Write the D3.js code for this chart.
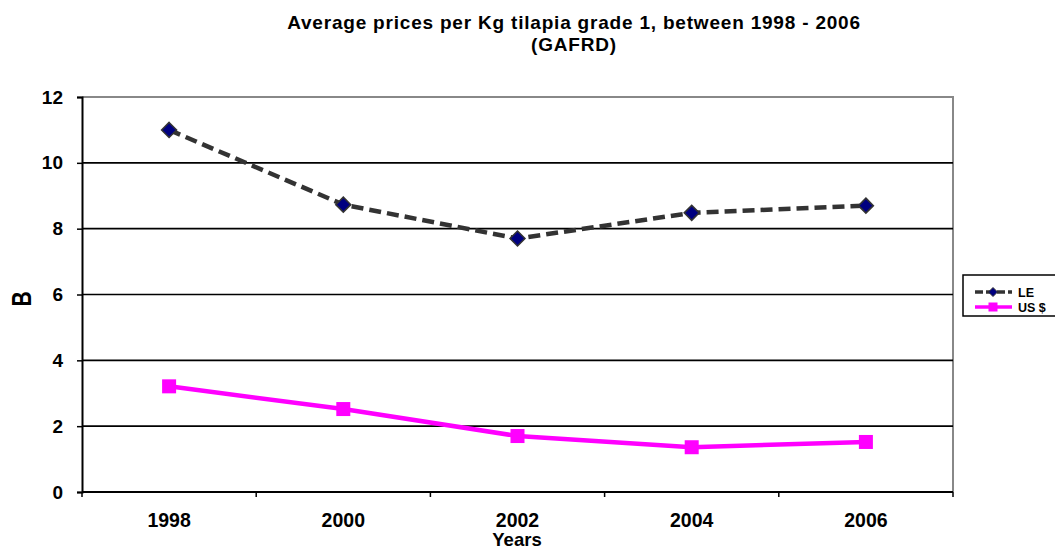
<!DOCTYPE html>
<html>
<head>
<meta charset="utf-8">
<script src="https://cdn.jsdelivr.net/npm/d3@7"></script>
<style>
  html, body { margin: 0; padding: 0; background: #fff; }
  svg { display: block; font-family: "Liberation Sans", Arial, sans-serif; }
</style>
</head>
<body>
<svg id="chart" width="1055" height="551"></svg>
<script>
// Tilapia grade 1 average price per Kg
const years = ["1998", "2000", "2002", "2004", "2006"];
const leValues = [11.0, 8.73, 7.7, 8.48, 8.7];
const usdValues = [3.21, 2.52, 1.70, 1.36, 1.52];
const yTicks = [0, 2, 4, 6, 8, 10, 12];
const seriesNames = ["LE", "US $"];

const svg = d3.select("#chart");
const plot = { left: 82, right: 953, top: 97, bottom: 492 };

const x = d3.scaleBand().domain(years).range([plot.left, plot.right]).padding(0);
const y = d3.scaleLinear().domain([0, 12]).range([plot.bottom, plot.top]);

// Title
svg.append("text")
  .attr("x", 574).attr("y", 29)
  .attr("text-anchor", "middle")
  .style("font-weight", "bold").style("font-size", "19px").style("letter-spacing", "0.8px")
  .text("Average prices per Kg tilapia grade  1, between 1998 - 2006");
svg.append("text")
  .attr("x", 574).attr("y", 51)
  .attr("text-anchor", "middle")
  .style("font-weight", "bold").style("font-size", "19px").style("letter-spacing", "0.8px")
  .text("(GAFRD)");

// Plot frame (top and right edges)
svg.append("path")
  .attr("d", `M${plot.left},${plot.top}H${plot.right}V${plot.bottom}`)
  .attr("fill", "none").attr("stroke", "#888").attr("stroke-width", 2);

// Horizontal gridlines
svg.append("g")
  .selectAll("line")
  .data(yTicks.filter(d => d > 0 && d < 12))
  .join("line")
  .attr("x1", plot.left).attr("x2", plot.right)
  .attr("y1", d => y(d)).attr("y2", d => y(d))
  .attr("stroke", "#000").attr("stroke-width", 1.6);

// Y axis
const yAxis = svg.append("g")
  .attr("transform", `translate(${plot.left},0)`)
  .call(d3.axisLeft(y).tickValues(yTicks).tickSize(5).tickPadding(14).tickFormat(d3.format("d")));
yAxis.select(".domain").attr("stroke", "#000").attr("stroke-width", 2);
yAxis.selectAll(".tick line").attr("stroke", "#000").attr("stroke-width", 1.5);
yAxis.selectAll(".tick text")
  .style("font-size", "19px").style("font-weight", "bold").attr("fill", "#000");

// X axis: ticks on band boundaries, labels at band centres
const xAxisG = svg.append("g").attr("transform", `translate(0,${plot.bottom})`);
xAxisG.append("line")
  .attr("x1", plot.left).attr("x2", plot.right)
  .attr("stroke", "#000").attr("stroke-width", 2);
const boundaries = years.map(d => x(d)).concat([x(years[years.length - 1]) + x.bandwidth()]);
xAxisG.selectAll("line.tk")
  .data(boundaries)
  .join("line").attr("class", "tk")
  .attr("x1", d => d).attr("x2", d => d)
  .attr("y1", 0).attr("y2", 5)
  .attr("stroke", "#000").attr("stroke-width", 1.5);
xAxisG.selectAll("text")
  .data(years)
  .join("text")
  .attr("x", d => x(d) + x.bandwidth() / 2)
  .attr("y", 35)
  .attr("text-anchor", "middle")
  .style("font-size", "19.5px").style("font-weight", "bold")
  .text(d => d);

// Axis titles
svg.append("text")
  .attr("x", 517).attr("y", 546)
  .attr("text-anchor", "middle")
  .style("font-size", "18.5px").style("font-weight", "bold")
  .text("Years");
svg.append("text")
  .attr("transform", "translate(31,299) rotate(-90) scale(0.75,1)")
  .attr("text-anchor", "middle")
  .style("font-size", "28px").style("font-weight", "bold")
  .text("B");

const cx = d => x(d) + x.bandwidth() / 2;
const line = d3.line().x(d => cx(d.year)).y(d => y(d.value));

const leData = years.map((yr, i) => ({ year: yr, value: leValues[i] }));
const usdData = years.map((yr, i) => ({ year: yr, value: usdValues[i] }));

// US $ series
svg.append("path")
  .datum(usdData)
  .attr("d", line)
  .attr("fill", "none")
  .attr("stroke", "#ff00ff").attr("stroke-width", 4.5)
  .attr("stroke-linejoin", "round");
svg.append("g")
  .selectAll("rect")
  .data(usdData)
  .join("rect")
  .attr("x", d => cx(d.year) - 7).attr("y", d => y(d.value) - 7)
  .attr("width", 14).attr("height", 14)
  .attr("fill", "#ff00ff");

// LE series
svg.append("path")
  .datum(leData)
  .attr("d", line)
  .attr("fill", "none")
  .attr("stroke", "#333").attr("stroke-width", 4.5)
  .attr("stroke-dasharray", "12,6");
const diamond = s => `M0,${-s}L${s},0L0,${s}L${-s},0Z`;
svg.append("g")
  .selectAll("path")
  .data(leData)
  .join("path")
  .attr("transform", d => `translate(${cx(d.year)},${y(d.value)})`)
  .attr("d", diamond(7.5))
  .attr("fill", "#000080").attr("stroke", "#333").attr("stroke-width", 1.5);

// Legend
const lg = svg.append("g");
lg.append("rect")
  .attr("x", 963).attr("y", 275).attr("width", 100).attr("height", 41)
  .attr("fill", "#fff").attr("stroke", "#000").attr("stroke-width", 1.5);
const legendRows = [
  { name: seriesNames[0], y: 292 },
  { name: seriesNames[1], y: 307 }
];
// LE sample
lg.append("line")
  .attr("x1", 975).attr("x2", 1012).attr("y1", legendRows[0].y).attr("y2", legendRows[0].y)
  .attr("stroke", "#333").attr("stroke-width", 3.5).attr("stroke-dasharray", "8,3");
lg.append("path")
  .attr("transform", `translate(993,${legendRows[0].y})`)
  .attr("d", diamond(4.5))
  .attr("fill", "#000080").attr("stroke", "#333").attr("stroke-width", 1);
// US $ sample
lg.append("line")
  .attr("x1", 975).attr("x2", 1012).attr("y1", legendRows[1].y).attr("y2", legendRows[1].y)
  .attr("stroke", "#ff00ff").attr("stroke-width", 3.5);
lg.append("rect")
  .attr("x", 988.5).attr("y", legendRows[1].y - 4.5).attr("width", 9).attr("height", 9)
  .attr("fill", "#ff00ff");
lg.selectAll("text")
  .data(legendRows)
  .join("text")
  .attr("x", 1018).attr("y", d => d.y + 4.5)
  .style("font-size", "12.5px").style("font-weight", "bold")
  .text(d => d.name);
</script>
</body>
</html>
